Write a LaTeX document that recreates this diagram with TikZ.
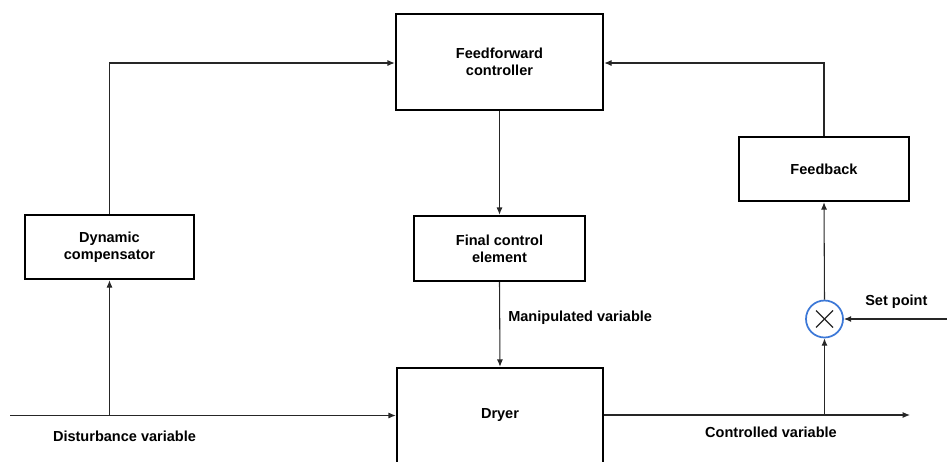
\documentclass[tikz,border=0pt]{standalone}
\usepackage{fontspec}
\setmainfont{Liberation Sans}
\usetikzlibrary{arrows.meta}
\begin{document}
\begin{tikzpicture}[x=0.75pt,y=-0.75pt,
  blk/.style={draw=black,line width=1.8pt,fill=white,inner sep=0pt,align=center,font=\fontsize{10.9}{12.5}\selectfont\bfseries},
  lbl/.style={font=\fontsize{10.9}{12.5}\selectfont\bfseries,inner sep=0pt},
  conn/.style={draw=black!85,line width=0.8pt,-{Latex[length=5.5pt,width=4.5pt]}},
  xmark/.style={draw=black!85,line width=0.9pt}]
\useasboundingbox (0,0) rectangle (947,461);
\node[blk,minimum width=207*0.75pt,minimum height=96*0.75pt] (ff) at (499.5,62) {Feedforward\\controller};
\node[blk,minimum width=170*0.75pt,minimum height=64*0.75pt] (fb) at (824,169) {Feedback};
\node[blk,minimum width=169*0.75pt,minimum height=64*0.75pt] (dc) at (109.5,247) {Dynamic\\compensator};
\node[blk,minimum width=171*0.75pt,minimum height=65*0.75pt] (fce) at (499.5,248.5) {Final control\\element};
\node[blk,minimum width=206*0.75pt,minimum height=100*0.75pt] (dryer) at (500,418) {};
\node[lbl] (dryertxt) at (500,415) {Dryer};
\node[draw={rgb,255:red,60;green,120;blue,215},line width=1.3pt,circle,minimum size=37*0.75pt,inner sep=0pt,fill=white] (sum) at (824.5,319) {};
\draw[xmark] ([shift={(-8.5,-8.5)}]sum.center) -- ([shift={(8.5,8.5)}]sum.center);
\draw[xmark] ([shift={(-8.5,8.5)}]sum.center) -- ([shift={(8.5,-8.5)}]sum.center);
\coordinate (din) at (10,415.5);
\coordinate (dbr) at (109.5,415.5);
\coordinate (dtop) at (109.5,63);
\coordinate (cout) at (910,415);
\coordinate (cbr) at (824.5,415);
\coordinate (fbtop) at (824,63);
\coordinate (spin) at (947,319);
\draw[conn] (din) -- (dryer.west |- din);
\draw[conn] (dbr) -- (dc.south);
\draw[conn] (dc.north) -- (dtop) -- (ff.west |- dtop);
\draw[conn] (ff.south) -- (fce.north);
\draw[conn] (fce.south) -- (dryer.north);
\draw[conn] (dryer.east |- cout) -- (cout);
\draw[conn] (cbr) -- (sum.south);
\draw[conn] (sum.north) -- (fb.south);
\draw[conn] (fb.north) -- (fbtop) -- (ff.east |- fbtop);
\draw[conn] (spin) -- (sum.east);
\node[lbl,anchor=west] (mv) at (508,318) {Manipulated variable};
\node[lbl,anchor=west] (sp) at (865,302) {Set point};
\node[lbl] (dv) at (124.5,436) {Disturbance variable};
\node[lbl] (cv) at (771,432) {Controlled variable};
\end{tikzpicture}
\end{document}
